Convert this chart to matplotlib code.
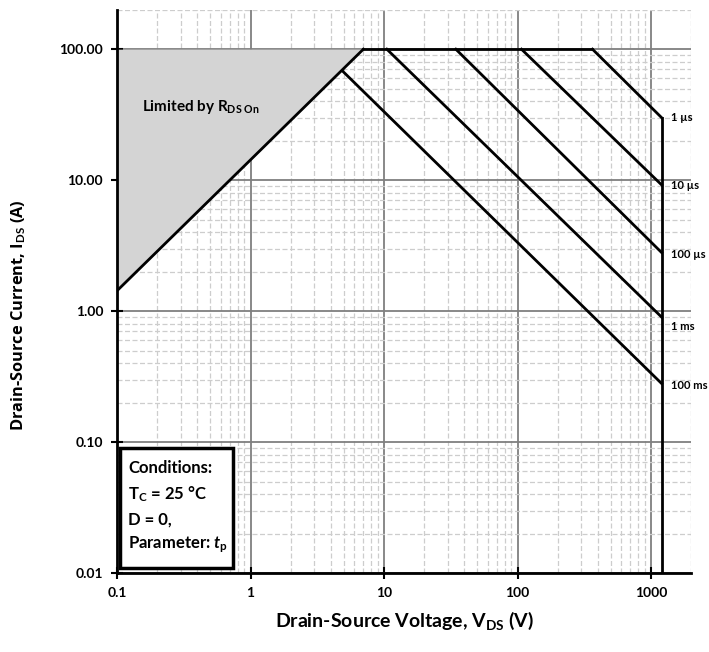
import numpy as np
import matplotlib
matplotlib.use("Agg")
import matplotlib.pyplot as plt
from matplotlib.patches import Rectangle

plt.rcParams['font.family'] = ['Lato', 'DejaVu Sans']
plt.rcParams['font.weight'] = 'bold'
plt.rcParams['axes.labelweight'] = 'bold'
plt.rcParams['mathtext.fontset'] = 'custom'
plt.rcParams['mathtext.rm'] = 'Lato:bold'
plt.rcParams['mathtext.it'] = 'Lato:italic:bold'
plt.rcParams['mathtext.bf'] = 'Lato:bold'

# Safe operating area data (V in volts, I in amps)
rds_v = [0.1, 7.0]
rds_i = [1.43, 100.0]
limit_v = [7.0, 364.0]
limit_i = [100.0, 100.0]

pulse_labels = ["1 µs", "10 µs", "100 µs", "1 ms", "100 ms"]
pulse_start_v = [364.0, 107.0, 34.5, 10.5, 4.9]
pulse_start_i = [100.0, 100.0, 100.0, 100.0, 68.0]
pulse_end_i = [30.0, 9.2, 2.8, 0.9, 0.28]
v_max = 1200.0
label_y = [30.0, 9.1, 2.72, 0.76, 0.27]

fig = plt.figure(figsize=(7.09, 6.52), dpi=100)
ax = fig.add_axes([0.165, 0.121, 0.81, 0.864])
ax.set_xscale('log')
ax.set_yscale('log')
ax.set_xlim(0.1, 2000)
ax.set_ylim(0.01, 200)

# grid
ax.grid(which='major', color='#7f7f7f', lw=1.3, ls='-', zorder=0)
ax.grid(which='minor', color='#cdcdcd', lw=0.9, ls=(0, (4, 2)), zorder=0)
ax.set_axisbelow(True)

# shaded region limited by Rds on
ax.fill_between(rds_v, rds_i, [100, 100], color='#d4d4d4', zorder=1, lw=0)

ax.plot(rds_v, rds_i, color='black', lw=2, zorder=3)
ax.plot(limit_v, limit_i, color='black', lw=2, zorder=3)
for sv, si, ei in zip(pulse_start_v, pulse_start_i, pulse_end_i):
    ax.plot([sv, v_max], [si, ei], color='black', lw=2, zorder=3)
ax.plot([v_max, v_max], [0.01, pulse_end_i[0]], color='black', lw=2, zorder=3)

for lab, ly in zip(pulse_labels, label_y):
    ax.text(1420, ly, lab, fontsize=8, va='center', ha='left', clip_on=False)

ax.text(0.155, 36, r"Limited by R$_{\mathrm{DS\ On}}$", fontsize=11, va='center', ha='left')

# conditions box
ax.add_patch(Rectangle((0.005, 0.009), 0.197, 0.213, transform=ax.transAxes,
                       facecolor='white', edgecolor='black', lw=2.5, zorder=4))
cond = ["Conditions:", r"T$_\mathrm{C}$ = 25 °C", "D = 0,", r"Parameter: $t_\mathrm{p}$"]
for k, line in enumerate(cond):
    ax.text(0.019, 0.186 - k * 0.045, line, transform=ax.transAxes, fontsize=12,
            va='center', ha='left', zorder=5)

for s in ['top', 'right']:
    ax.spines[s].set_visible(False)
for s in ['left', 'bottom']:
    ax.spines[s].set_linewidth(2)
    ax.spines[s].set_zorder(6)

ax.set_xticks([0.1, 1, 10, 100, 1000])
ax.set_xticklabels(["0.1", "1", "10", "100", "1000"])
ax.set_yticks([0.01, 0.1, 1, 10, 100])
ax.set_yticklabels(["0.01", "0.10", "1.00", "10.00", "100.00"])
ax.tick_params(which='major', direction='inout', length=8, width=1.5, labelsize=10, pad=6)
ax.tick_params(which='minor', length=0)

ax.set_xlabel(r"Drain-Source Voltage, V$_{\mathrm{DS}}$ (V)", fontsize=14, labelpad=8)
ax.set_ylabel(r"Drain-Source Current, I$_{\mathrm{DS}}$ (A)", fontsize=11.8,
              family=['Open Sans', 'DejaVu Sans'])
ax.yaxis.set_label_coords(-0.155, 0.458)

fig.savefig("out.png", dpi=100)
